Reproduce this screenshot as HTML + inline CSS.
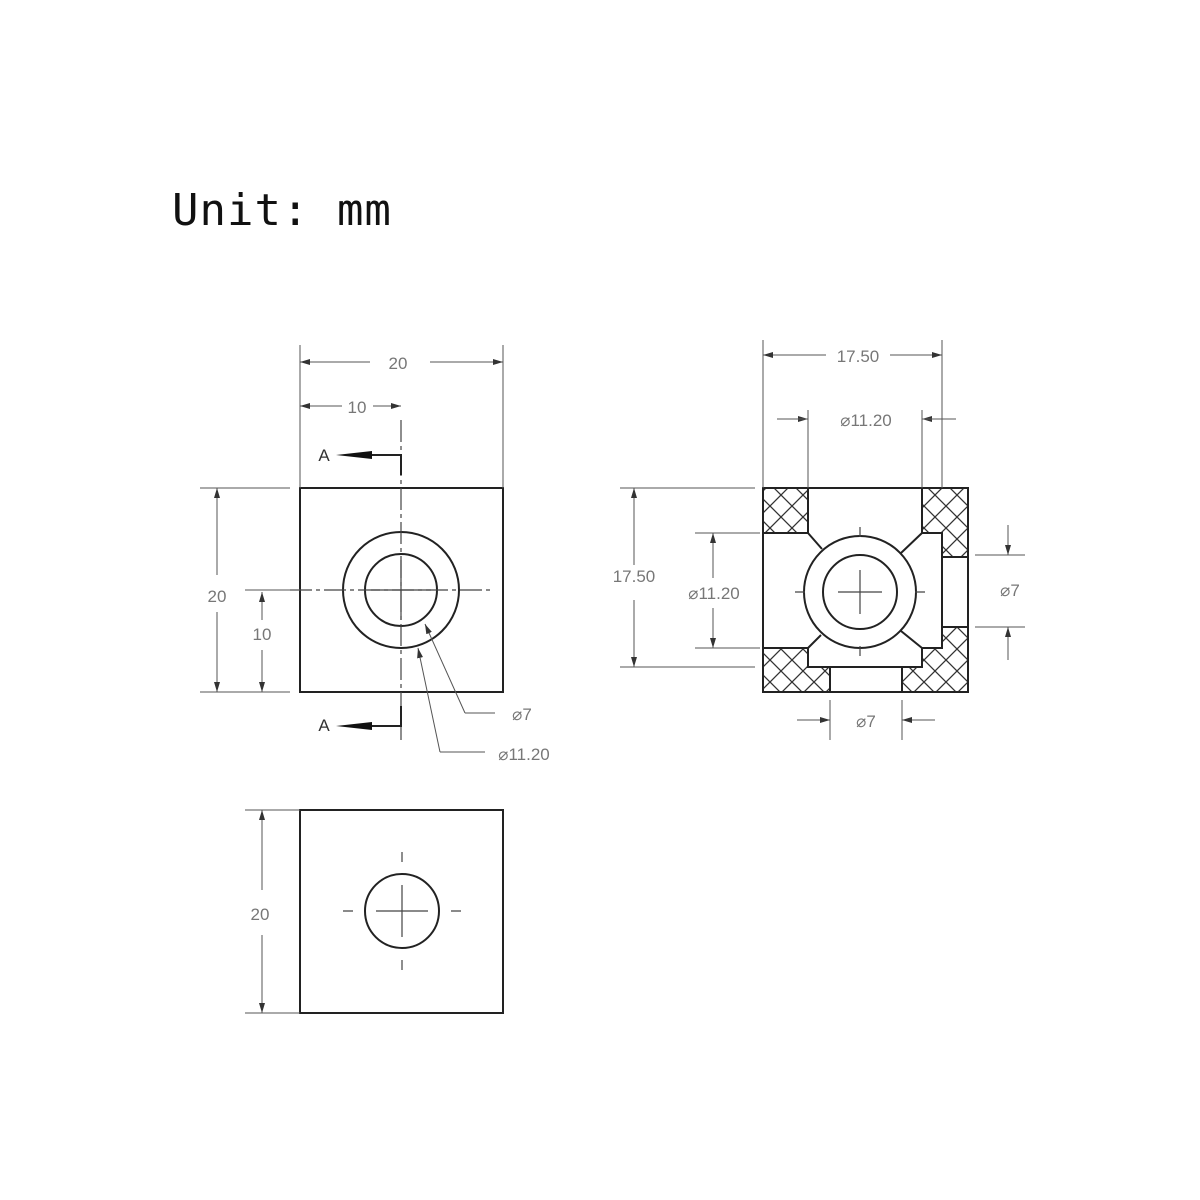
<!DOCTYPE html>
<html><head><meta charset="utf-8"><style>html,body{margin:0;padding:0;background:#fff}svg{display:block}</style></head><body>
<svg width="1200" height="1200" viewBox="0 0 1200 1200" xmlns="http://www.w3.org/2000/svg">
<defs>
<pattern id="h" width="22" height="22" patternUnits="userSpaceOnUse">
<path d="M0 0L22 22M22 0L0 22M-11 11L11 33M11 -11L33 11M-11 11L11 -11M11 33L33 11" stroke="#333" stroke-width="1.3"/>
</pattern>
<marker id="a" viewBox="0 0 10 6" refX="10" refY="3" markerWidth="10" markerHeight="6" orient="auto" markerUnits="userSpaceOnUse"><path d="M0 0L10 3L0 6Z" fill="#333"/></marker>
</defs>
<text x="172" y="225" font-family="DejaVu Sans Mono, Liberation Mono, monospace" font-size="44" fill="#111" letter-spacing="1">Unit: mm</text>
<g fill="none" stroke="#222" stroke-width="2">
<rect x="300" y="488" width="203" height="204"/>
<circle cx="401" cy="590" r="58"/>
<circle cx="401" cy="590" r="36"/>
<rect x="300" y="810" width="203" height="203"/>
<circle cx="402" cy="911" r="37"/>
<rect x="763" y="488" width="205" height="204"/>
<circle cx="860" cy="592" r="56"/>
<circle cx="860" cy="592" r="37"/>
</g>
<g fill="url(#h)" stroke="#222" stroke-width="2">
<rect x="763" y="488" width="45" height="45"/>
<path d="M922 488H968V557H942V533H922Z"/>
<path d="M942 627H968V692H902V667H922V648H942Z"/>
<path d="M763 648H808V667H830V692H763Z"/>
</g>
<g stroke="#222" stroke-width="2" fill="none">
<path d="M808 667H922M942 557V627M808 533L822 549M922 533L901 553M808 648L821 635M922 648L901 631"/>
</g>
<g stroke="#444" stroke-width="1.2" fill="none">
<path d="M401 420V740" stroke-dasharray="22 4 4 4"/>
<path d="M290 590H490" stroke-dasharray="22 4 4 4"/>
<path d="M401 560V620M371 590H431M860 570V614M838 592H882"/>
<path d="M402 885V937M376 911H428M402 852V862M402 960V970M343 911H353M451 911H461"/>
<path d="M860 527V537M860 646V656M795 592H805M915 592H925"/>
</g>
<g stroke="#555" stroke-width="1" fill="none" marker-end="url(#a)">
<path d="M370 362H300"/><path d="M430 362H503"/>
<path d="M342 406H300"/><path d="M373 406H401"/>
<path d="M217 575V488"/><path d="M217 612V692"/>
<path d="M262 620V592"/><path d="M262 650V692"/>
<path d="M826 355H763"/><path d="M890 355H942"/>
<path d="M778 419H808"/><path d="M956 419H922"/>
<path d="M634 565V488"/><path d="M634 600V667"/>
<path d="M713 578V533"/><path d="M713 608V648"/>
<path d="M1008 525V555"/><path d="M1008 660V627"/>
<path d="M797 720H830"/><path d="M935 720H902"/>
<path d="M262 890V810"/><path d="M262 935V1013"/>
<path d="M465 713L425 624"/><path d="M440 752L418 648"/>
</g>
<g stroke="#555" stroke-width="1" fill="none">
<path d="M300 345V488M503 345V488M200 488H290M200 692H290M245 590H300"/>
<path d="M763 340V488M942 340V488M808 410V488M922 410V488M777 419H808M922 419H956"/>
<path d="M620 488H755M620 667H755M695 533H760M695 648H760M975 555H1025M975 627H1025"/>
<path d="M830 700V740M902 700V740"/>
<path d="M245 810H300M245 1013H300"/>
<path d="M465 713H495M440 752H485"/>
</g>
<g stroke="#222" stroke-width="2" fill="none"><path d="M358 455H401V475M358 726H401V706"/></g>
<path d="M336 455L372 451V459Z M336 726L372 722V730Z" fill="#111"/>
<g font-family="Liberation Sans, DejaVu Sans, sans-serif" font-size="17" fill="#777" text-anchor="middle">
<text x="398" y="369">20</text><text x="357" y="413">10</text>
<text x="324" y="461" fill="#333">A</text><text x="324" y="731" fill="#333">A</text>
<text x="217" y="602">20</text><text x="262" y="640">10</text>
<text x="522" y="720">⌀7</text><text x="524" y="760">⌀11.20</text>
<text x="858" y="362">17.50</text><text x="866" y="426">⌀11.20</text>
<text x="634" y="582">17.50</text><text x="714" y="599">⌀11.20</text>
<text x="1010" y="596">⌀7</text><text x="866" y="727">⌀7</text>
<text x="260" y="920">20</text>
</g>
</svg>
</body></html>
